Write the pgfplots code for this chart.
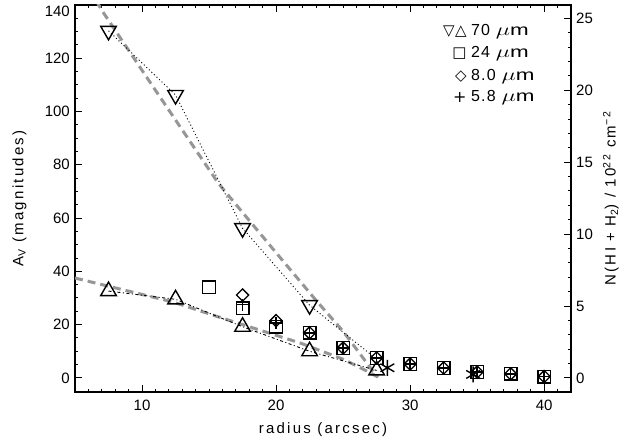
\documentclass[border=0pt]{standalone}
\usepackage{fontspec}
\usepackage{graphicx}
\setmainfont{Liberation Sans}
\newfontfamily\labelfont[LetterSpace=15]{Liberation Sans}
\newfontfamily\legfont[LetterSpace=8]{Liberation Sans}
\newfontfamily\symfont{DejaVu Sans}
\usepackage{pgfplots}
\pgfplotsset{compat=1.18}
\definecolor{fitgray}{RGB}{150,150,150}
\newcommand{\um}{\scalebox{1.4}[1.0]{$\mu$m}}
\begin{document}
\fontsize{15}{18}\selectfont
\begin{tikzpicture}
\begin{axis}[
  name=main,
  scale only axis, width=496pt, height=387pt,
  xmin=5, xmax=42, ymin=-5.3, ymax=140,
  xtick={10,20,30,40}, minor xtick={5,...,42},
  ytick={0,20,...,120}, minor ytick={0,5,...,140},
  extra y ticks={140},
  extra y tick style={yticklabel style={yshift=-6pt}},
  xtick pos=both, ytick pos=left,
  tick align=inside,
  major tick length=7pt, minor tick length=3.5pt,
  axis line style={line width=1.1pt},
  every tick/.style={line width=1pt, black},
  /pgf/number format/assume math mode=true,
  tick label style={font=\fontsize{15}{18}\selectfont},
  xticklabel shift=3pt,
  xlabel={\labelfont radius (arcsec)},
  ylabel={\labelfont A\textsubscript{V} (magnitudes)},
  xlabel shift=2pt,
  ylabel shift=8pt,
  label style={font=\fontsize{15}{18}\selectfont},
  clip=true,
]
% model curves (gray dashed)
\addplot[fitgray, line width=3pt, dash pattern=on 8pt off 5pt] coordinates {
 (6.6,141.5) (7.0,138) (11,108) (15.7,73) (20,47) (23,29) (25,17.5) (27.3,2) (27.6,0.3)};
\addplot[fitgray, line width=3pt, dash pattern=on 8pt off 5pt] coordinates {
 (5,37.5) (12.3,28.5) (15.7,22.9) (21.8,13.1) (25,7) (26.8,2.5) (27.6,0.3)};
% black connecting lines
\addplot[black, line width=0.9pt, dash pattern=on 1pt off 2.5pt] coordinates {
 (7.5,130.3) (12.5,106.2) (17.5,56.2) (22.5,27.3) (27.5,7)};
\addplot[black, line width=0.9pt, dash pattern=on 3pt off 2.5pt on 1pt off 2.5pt] coordinates {
 (7.5,32.6) (12.5,29.5) (17.5,19.2) (22.5,10) (27.5,2.8)};
% 70 micron, inverted triangles
\addplot[only marks, mark=triangle, mark size=9pt, mark options={rotate=180, black, line width=1.4pt}] coordinates {
 (7.5,130.3) (12.5,106.2) (17.5,56.2) (22.5,27.3)};
% 70 micron, triangles
\addplot[only marks, mark=triangle, mark size=9pt, mark options={black, line width=1.4pt}] coordinates {
 (7.5,32.6) (12.5,29.5) (17.5,19.2) (22.5,10) (27.5,2.8)};
% 24 micron, squares
\addplot[only marks, mark=square, mark size=6.3pt, mark options={black, line width=1.4pt}] coordinates {
 (15,34) (17.5,26.2) (20,19.2) (22.5,16.9) (25,11.2) (27.5,7.5) (30,5.2) (32.5,3.7) (35,2.2) (37.5,1.5) (40,0.5)};
% 8.0 micron, diamonds
\addplot[only marks, mark=square, mark size=4.3pt, mark options={rotate=45, black, line width=1.3pt}] coordinates {
 (17.5,31.1) (20,21.5) (22.5,16.9) (25,11.2) (27.5,7.5) (30,5.2) (32.5,3.7) (35,2.2) (37.5,1.5) (40,0.5)};
% 5.8 micron, plus
\addplot[only marks, mark=+, mark size=6pt, mark options={black, line width=1.4pt},
  error bars/.cd, y dir=minus, y explicit, error mark=none, error bar style={black, line width=1.2pt}] coordinates {
 (17.5,27.5) (20,20.6) (22.5,16.9) (25,11.2) (27.5,7.5) (30,5.2) (32.5,3.7) (35,2.2) (37.5,1.5) (40,0.5) -= (0,6)};
% asterisks
\addplot[only marks, mark=asterisk, mark size=8pt, mark options={black, line width=1.4pt}] coordinates {
 (28.3,3.8) (34.7,1.3)};
% legend
\node[anchor=west, inner sep=0pt] at (rel axis cs:0.798,0.930) {\fontsize{16}{18}\legfont 70 \um};
\node[anchor=west, inner sep=0pt] at (rel axis cs:0.798,0.875) {\fontsize{16}{18}\legfont 24 \um};
\node[anchor=west, inner sep=0pt] at (rel axis cs:0.798,0.815) {\fontsize{16}{18}\legfont 8.0 \um};
\node[anchor=west, inner sep=0pt] at (rel axis cs:0.798,0.760) {\fontsize{16}{18}\legfont 5.8 \um};
\node[anchor=east, inner sep=0pt] at (rel axis cs:0.790,0.930) {\fontsize{15}{16}\symfont ▽\kern0.5pt△};
\node[anchor=east, inner sep=0pt] at (rel axis cs:0.790,0.875) {\fontsize{15}{16}\symfont □};
\node[anchor=east, inner sep=0pt] at (rel axis cs:0.790,0.815) {\fontsize{15}{16}\symfont ◇};
\node[anchor=east, inner sep=0pt] at (rel axis cs:0.790,0.760) {\fontsize{16}{16}\symfont +};
\end{axis}
\begin{axis}[
  at={(main.south west)}, anchor=south west,
  scale only axis, width=496pt, height=387pt,
  xmin=5, xmax=42, ymin=-0.98, ymax=25.93,
  hide x axis, axis y line*=right,
  ytick={0,5,...,25}, minor ytick={0,1,...,25},
  tick align=inside,
  major tick length=7pt, minor tick length=3.5pt,
  axis line style={line width=1.1pt, -},
  every tick/.style={line width=1pt, black},
  /pgf/number format/assume math mode=true,
  tick label style={font=\fontsize{15}{18}\selectfont},
  ylabel={\labelfont N(HI + H\textsubscript{2}) / 10\textsuperscript{22} cm\textsuperscript{−2}},
  label style={font=\fontsize{15}{18}\selectfont},
]
\end{axis}
\pgfresetboundingbox
\path ([shift={(-75pt,-53pt)}]main.south west) rectangle ([shift={(53pt,5pt)}]main.north east);
\end{tikzpicture}
\end{document}
